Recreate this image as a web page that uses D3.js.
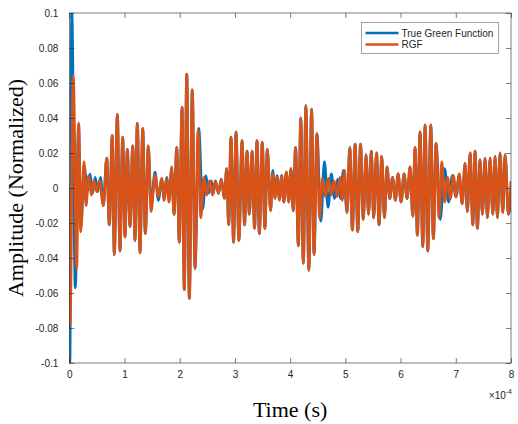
<!DOCTYPE html>
<html>
<head>
<meta charset="utf-8">
<script src="https://cdn.jsdelivr.net/npm/d3@7"></script>
<style>
  body { margin: 0; background: #fff; }
  svg { display: block; }
  .tick-label { font-family: "Liberation Sans", Arial, sans-serif; font-size: 10px; fill: #262626; }
  .axis-title { font-family: "Liberation Serif", "Times New Roman", serif; font-size: 22px; fill: #000; }
</style>
</head>
<body>
<div id="chart"></div>
<script>
// x values are in units of 1e-4 s (the axis shows "x10^-4")
const xTicks = [0, 1, 2, 3, 4, 5, 6, 7, 8];
const yTicks = [-0.1, -0.08, -0.06, -0.04, -0.02, 0, 0.02, 0.04, 0.06, 0.08, 0.1];
const yTickLabels = ["-0.1", "-0.08", "-0.06", "-0.04", "-0.02", "0", "0.02", "0.04", "0.06", "0.08", "0.1"];
const seriesNames = ["True Green Function", "RGF"];

// RGF: extrema of the oscillation
const rgfTime = [
  0.000, 0.013, 0.072, 0.134, 0.170, 0.207, 0.266, 0.303, 0.351, 0.399,
  0.447, 0.496, 0.547, 0.616, 0.678, 0.725, 0.779, 0.815, 0.870, 0.918,
  0.967, 1.009, 1.051, 1.100, 1.149, 1.190, 1.232, 1.281, 1.330, 1.377,
  1.431, 1.480, 1.553, 1.612, 1.674, 1.716, 1.764, 1.806, 1.855, 1.897,
  1.946, 1.993, 2.042, 2.083, 2.127, 2.174, 2.228, 2.277, 2.332, 2.382,
  2.435, 2.487, 2.540, 2.594, 2.647, 2.701, 2.754, 2.808, 2.851, 2.886,
  2.929, 2.975, 3.020, 3.071, 3.129, 3.174, 3.219, 3.261, 3.310, 3.355,
  3.400, 3.442, 3.495, 3.542, 3.587, 3.645, 3.685, 3.725, 3.764, 3.806,
  3.846, 3.886, 3.931, 3.975, 4.014, 4.056, 4.098, 4.149, 4.192, 4.239,
  4.284, 4.339, 4.388, 4.433, 4.484, 4.533, 4.583, 4.639, 4.692, 4.745,
  4.797, 4.850, 4.899, 4.944, 4.986, 5.031, 5.080, 5.127, 5.176, 5.225,
  5.275, 5.324, 5.375, 5.420, 5.469, 5.514, 5.565, 5.610, 5.659, 5.707,
  5.755, 5.804, 5.855, 5.906, 5.955, 6.009, 6.063, 6.118, 6.172, 6.221,
  6.263, 6.304, 6.353, 6.402, 6.444, 6.493, 6.547, 6.594, 6.643, 6.697,
  6.746, 6.799, 6.851, 6.904, 6.957, 7.009, 7.063, 7.116, 7.168, 7.210,
  7.259, 7.308, 7.350, 7.391, 7.440, 7.482, 7.531, 7.572, 7.621, 7.670,
  7.712, 7.754, 7.802, 7.851, 7.893, 7.953, 8.000
];
const rgfAmp = [
  -0.003, -0.078, 0.064, -0.046, 0.037, -0.025, 0.015, -0.010, 0.007, -0.004,
  0.004, -0.002, 0.004, -0.010, 0.017, -0.021, 0.030, -0.038, 0.042, -0.036,
  0.029, -0.028, 0.022, -0.022, 0.024, -0.030, 0.037, -0.037, 0.034, -0.026,
  0.024, -0.0135, 0.0074, -0.005, 0.0057, -0.007, 0.005, -0.008, 0.012, -0.015,
  0.023, -0.031, 0.046, -0.058, 0.065, -0.063, 0.056, -0.046, 0.033, -0.017,
  0.006, -0.004, 0.004, -0.004, 0.004, -0.003, 0.005, -0.006, 0.011, -0.021,
  0.029, -0.031, 0.032, -0.030, 0.027, -0.021, 0.021, -0.015, 0.021, -0.023,
  0.027, -0.026, 0.026, -0.023, 0.022, -0.013, 0.008, -0.006, 0.006, -0.007,
  0.007, -0.008, 0.009, -0.008, 0.011, -0.013, 0.023, -0.033, 0.040, -0.043,
  0.047, -0.047, 0.045, -0.038, 0.031, -0.017, 0.0055, -0.005, 0.0055, -0.004,
  0.004, -0.005, 0.006, -0.007, 0.010, -0.014, 0.023, -0.024, 0.025, -0.025,
  0.025, -0.018, 0.019, -0.015, 0.021, -0.017, 0.020, -0.021, 0.018, -0.017,
  0.012, -0.006, 0.006, -0.007, 0.008, -0.008, 0.008, -0.006, 0.012, -0.016,
  0.023, -0.027, 0.032, -0.0335, 0.036, -0.036, 0.036, -0.029, 0.0255, -0.017,
  0.015, -0.008, 0.006, -0.006, 0.007, -0.005, 0.008, -0.009, 0.014, -0.0135,
  0.020, -0.021, 0.021, -0.023, 0.016, -0.015, 0.017, -0.017, 0.017, -0.015,
  0.018, -0.017, 0.020, -0.014, 0.019, -0.015, 0.004
];

// True Green function: same as RGF inside the bursts, differs at the start and in quiet gaps
const trueTime = [
  0.000, 0.009, 0.045, 0.109, 0.167, 0.210, 0.272, 0.326, 0.375, 0.422,
  0.469, 0.516, 0.565, 0.616, 0.678, 0.725, 0.779, 0.815, 0.870, 0.918,
  0.967, 1.009, 1.051, 1.100, 1.149, 1.190, 1.232, 1.281, 1.330, 1.377,
  1.431, 1.480, 1.553, 1.612, 1.674, 1.716, 1.764, 1.806, 1.855, 1.897,
  1.946, 1.993, 2.042, 2.083, 2.127, 2.174, 2.228, 2.277, 2.344, 2.415,
  2.473, 2.524, 2.571, 2.609, 2.647, 2.701, 2.754, 2.808, 2.851, 2.886,
  2.929, 2.975, 3.020, 3.071, 3.129, 3.174, 3.219, 3.261, 3.310, 3.355,
  3.400, 3.442, 3.495, 3.542, 3.587, 3.645, 3.685, 3.725, 3.764, 3.806,
  3.846, 3.886, 3.931, 3.975, 4.014, 4.056, 4.098, 4.149, 4.192, 4.239,
  4.284, 4.339, 4.388, 4.433, 4.484, 4.556, 4.620, 4.687, 4.745, 4.805,
  4.860, 4.909, 4.966, 5.031, 5.080, 5.127, 5.176, 5.225,
  5.275, 5.324, 5.375, 5.420, 5.469, 5.514, 5.565, 5.610, 5.659, 5.707,
  5.755, 5.804, 5.855, 5.906, 5.955, 6.009, 6.063, 6.118, 6.172, 6.221,
  6.263, 6.304, 6.353, 6.402, 6.444, 6.493, 6.547, 6.594, 6.643, 6.717,
  6.797, 6.871, 6.938, 7.002, 7.060, 7.116, 7.168, 7.210,
  7.259, 7.308, 7.350, 7.391, 7.440, 7.482, 7.531, 7.572, 7.621, 7.670,
  7.712, 7.754, 7.802, 7.851, 7.893, 7.953, 8.000
];
const trueAmp = [
  0.0, -0.1, 0.1, -0.057, 0.036, -0.022, 0.012, -0.002, 0.008, -0.003,
  0.006, -0.002, 0.006, -0.010, 0.017, -0.021, 0.030, -0.038, 0.042, -0.036,
  0.029, -0.028, 0.022, -0.022, 0.024, -0.030, 0.037, -0.037, 0.034, -0.026,
  0.024, -0.010, 0.009, -0.007, 0.005, -0.005, 0.006, -0.006, 0.010, -0.015,
  0.023, -0.031, 0.046, -0.058, 0.065, -0.063, 0.056, -0.046, 0.034, -0.012,
  0.007, -0.003, 0.004, -0.003, 0.004, -0.003, 0.005, -0.006, 0.011, -0.021,
  0.029, -0.031, 0.032, -0.030, 0.027, -0.021, 0.021, -0.015, 0.021, -0.023,
  0.027, -0.026, 0.026, -0.023, 0.022, -0.013, 0.010, -0.005, 0.007, -0.006,
  0.007, -0.008, 0.009, -0.008, 0.011, -0.013, 0.023, -0.033, 0.040, -0.043,
  0.047, -0.047, 0.045, -0.038, 0.031, -0.019, 0.015, -0.011, 0.008, -0.006,
  0.005, -0.006, 0.010, -0.014, 0.023, -0.024, 0.025, -0.025,
  0.025, -0.018, 0.019, -0.015, 0.021, -0.017, 0.020, -0.021, 0.018, -0.017,
  0.012, -0.006, 0.006, -0.007, 0.008, -0.008, 0.008, -0.006, 0.012, -0.016,
  0.023, -0.027, 0.032, -0.0335, 0.036, -0.036, 0.036, -0.029, 0.0255, -0.018,
  0.011, -0.008, 0.007, -0.005, 0.007, -0.009, 0.014, -0.0135,
  0.020, -0.021, 0.021, -0.023, 0.016, -0.015, 0.017, -0.017, 0.017, -0.015,
  0.018, -0.017, 0.020, -0.014, 0.019, -0.015, -0.006
];

const W = 518, H = 424;
const margin = {top: 13, right: 7, bottom: 61, left: 69.3};
const colors = ["#0072BD", "#D95319"];
const axisColor = "#262626";

const svg = d3.select("#chart").append("svg")
  .attr("width", W)
  .attr("height", H);

svg.append("rect").attr("width", W).attr("height", H).attr("fill", "#fff");

const x = d3.scaleLinear().domain([0, 8]).range([margin.left, W - margin.right]);
const y = d3.scaleLinear().domain([-0.1, 0.1]).range([H - margin.bottom, margin.top]);

svg.append("clipPath").attr("id", "plot-clip")
  .append("rect")
  .attr("x", x(0)).attr("y", y(0.1))
  .attr("width", x(8) - x(0)).attr("height", y(-0.1) - y(0.1));

// Lines
const line = d3.line()
  .x(d => x(d[0]))
  .y(d => y(d[1]))
  .curve(d3.curveMonotoneX);

const trueData = trueTime.map((t, i) => [t, trueAmp[i]]);
const rgfData = rgfTime.map((t, i) => [t, rgfAmp[i]]);

const plot = svg.append("g").attr("clip-path", "url(#plot-clip)");
plot.append("path")
  .datum(trueData)
  .attr("d", line)
  .attr("fill", "none")
  .attr("stroke", colors[0])
  .attr("stroke-width", 2.8)
  .attr("stroke-linejoin", "round");
plot.append("path")
  .datum(rgfData)
  .attr("d", line)
  .attr("fill", "none")
  .attr("stroke", colors[1])
  .attr("stroke-width", 2.8)
  .attr("stroke-linejoin", "round");

// Axes (MATLAB style: inward ticks, box on)
const tickLen = 5;
svg.append("g")
  .attr("transform", `translate(0,${y(-0.1)})`)
  .call(d3.axisBottom(x).tickValues(xTicks).tickSizeInner(-tickLen).tickSizeOuter(0).tickPadding(8))
  .call(g => g.select(".domain").remove())
  .call(g => g.selectAll("line").attr("stroke", axisColor).attr("stroke-width", 0.6))
  .call(g => g.selectAll("text").attr("class", "tick-label").attr("font-family", null).attr("font-size", null).attr("fill", null));

svg.append("g")
  .attr("transform", `translate(0,${y(0.1)})`)
  .call(d3.axisTop(x).tickValues(xTicks).tickSizeInner(-tickLen).tickSizeOuter(0).tickFormat(""))
  .call(g => g.select(".domain").remove())
  .call(g => g.selectAll("line").attr("stroke", axisColor).attr("stroke-width", 0.6));

svg.append("g")
  .attr("transform", `translate(${x(0)},0)`)
  .call(d3.axisLeft(y).tickValues(yTicks).tickSizeInner(-tickLen).tickSizeOuter(0).tickPadding(11)
    .tickFormat((d, i) => yTickLabels[i]))
  .call(g => g.select(".domain").remove())
  .call(g => g.selectAll("line").attr("stroke", axisColor).attr("stroke-width", 0.6))
  .call(g => g.selectAll("text").attr("class", "tick-label").attr("font-family", null).attr("font-size", null).attr("fill", null));

svg.append("g")
  .attr("transform", `translate(${x(8)},0)`)
  .call(d3.axisRight(y).tickValues(yTicks).tickSizeInner(-tickLen).tickSizeOuter(0).tickFormat(""))
  .call(g => g.select(".domain").remove())
  .call(g => g.selectAll("line").attr("stroke", axisColor).attr("stroke-width", 0.6));

svg.append("rect")
  .attr("x", x(0)).attr("y", y(0.1))
  .attr("width", x(8) - x(0)).attr("height", y(-0.1) - y(0.1))
  .attr("fill", "none")
  .attr("stroke", axisColor)
  .attr("stroke-width", 0.6);

// Exponent label
const expo = svg.append("text")
  .attr("class", "tick-label")
  .attr("x", x(8) + 1)
  .attr("y", 399)
  .attr("text-anchor", "end");
expo.append("tspan").text("\u00d710");
expo.append("tspan").attr("dy", -5).attr("font-size", "7px").text("-4");

// Axis titles
svg.append("text")
  .attr("class", "axis-title")
  .attr("x", (x(0) + x(8)) / 2)
  .attr("y", 417)
  .attr("text-anchor", "middle")
  .text("Time (s)");

svg.append("text")
  .attr("class", "axis-title")
  .attr("transform", `translate(23,${y(0)}) rotate(-90)`)
  .attr("text-anchor", "middle")
  .text("Amplitude (Normalized)");

// Legend
const legend = svg.append("g").attr("transform", "translate(361.5,22.5)");
legend.append("rect")
  .attr("width", 137)
  .attr("height", 31)
  .attr("fill", "#fff")
  .attr("stroke", "#8c8c8c")
  .attr("stroke-width", 0.8);
seriesNames.forEach((name, i) => {
  const ly = 10.5 + i * 11.5;
  legend.append("line")
    .attr("x1", 4).attr("x2", 37)
    .attr("y1", ly).attr("y2", ly)
    .attr("stroke", colors[i])
    .attr("stroke-width", 2.5);
  legend.append("text")
    .attr("class", "tick-label")
    .attr("x", 40)
    .attr("y", ly + 3.6)
    .text(name);
});
</script>
</body>
</html>
